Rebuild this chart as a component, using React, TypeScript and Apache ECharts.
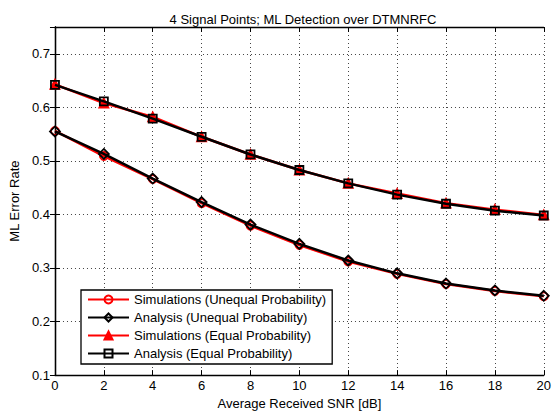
import React, { useEffect, useRef } from "react";
import * as echarts from "echarts";

const snr = [0, 2, 4, 6, 8, 10, 12, 14, 16, 18, 20];
const simUnequal = [0.556, 0.509, 0.466, 0.421, 0.379, 0.343, 0.312, 0.289, 0.27, 0.257, 0.247];
const anaUnequal = [0.555, 0.513, 0.467, 0.423, 0.381, 0.345, 0.314, 0.29, 0.271, 0.258, 0.248];
const simEqual = [0.643, 0.608, 0.582, 0.545, 0.512, 0.483, 0.458, 0.439, 0.421, 0.409, 0.399];
const anaEqual = [0.642, 0.611, 0.579, 0.545, 0.512, 0.483, 0.458, 0.437, 0.42, 0.407, 0.398];

const seriesNames = [
  "Simulations (Unequal Probability)",
  "Analysis (Unequal Probability)",
  "Simulations (Equal Probability)",
  "Analysis (Equal Probability)",
];

const FONT = "Liberation Sans, Arial, Helvetica, sans-serif";
const DIAMOND = "path://M0,-1L1,0L0,1L-1,0Z";

export default function App() {
  const ref = useRef<HTMLDivElement>(null);
  useEffect(() => {
    if (!ref.current) return;
    const chart = echarts.init(ref.current, null, { renderer: "svg" });
    const pair = (ys: number[]) => snr.map((x, i) => [x, ys[i]]);
    const tickCommon = { show: true, inside: true, length: 5, lineStyle: { color: "#000", width: 1 } };
    const lineCommon = { show: true, lineStyle: { color: "#000", width: 1.3 } };
    const grid = { show: true, lineStyle: { color: "#444", width: 1, type: [1, 3] as any } };
    const mk = (
      name: string,
      data: number[],
      color: string,
      symbol: string,
      size: number,
      fill: string,
      z: number
    ) => ({
      name,
      type: "line",
      data: pair(data),
      symbol,
      symbolSize: size,
      showSymbol: true,
      z,
      lineStyle: { color, width: 2.5 },
      itemStyle: { color: fill, borderColor: color, borderWidth: 1.8 },
      emphasis: { disabled: true },
    });
    chart.setOption({
      animation: false,
      backgroundColor: "#fff",
      textStyle: { fontFamily: FONT },
      title: {
        text: "4 Signal Points; ML Detection over DTMNRFC",
        left: 298,
        textAlign: "center",
        top: 8,
        textStyle: { fontSize: 13, fontWeight: "normal", color: "#000", fontFamily: FONT },
      },
      grid: { left: 49, top: 27, width: 498, height: 354, containLabel: false },
      legend: {
        orient: "vertical",
        left: 81,
        top: 290,
        data: seriesNames,
        itemWidth: 41,
        itemHeight: 10,
        itemGap: 5,
        padding: [3, 6, 4, 6],
        backgroundColor: "#fff",
        borderColor: "#000",
        borderWidth: 1.3,
        borderRadius: 0,
        textStyle: { fontSize: 13, color: "#000", fontFamily: FONT },
        selectedMode: false,
      },
      xAxis: [
        {
          type: "value",
          min: 0,
          max: 20,
          interval: 2,
          position: "bottom",
          name: "Average Received SNR [dB]",
          nameLocation: "middle",
          nameGap: 19,
          nameTextStyle: { fontSize: 13, color: "#000", fontFamily: FONT },
          axisLine: lineCommon,
          axisTick: tickCommon,
          axisLabel: { fontSize: 13, color: "#000", margin: 4, fontFamily: FONT },
          splitLine: grid,
        },
        {
          type: "value",
          min: 0,
          max: 20,
          interval: 2,
          position: "top",
          axisLine: lineCommon,
          axisTick: tickCommon,
          axisLabel: { show: false },
          splitLine: { show: false },
        },
      ],
      yAxis: [
        {
          type: "value",
          min: 0.1,
          max: 0.75,
          interval: 0.1,
          position: "left",
          name: "ML Error Rate",
          nameLocation: "middle",
          nameGap: 30,
          nameTextStyle: { fontSize: 13, color: "#000", fontFamily: FONT },
          axisLine: lineCommon,
          axisTick: tickCommon,
          axisLabel: {
            fontSize: 13,
            color: "#000",
            margin: 5,
            fontFamily: FONT,
            formatter: (v: number) => (Math.abs(v - 0.75) < 1e-6 ? "" : v.toFixed(1)),
          },
          splitLine: grid,
        },
        {
          type: "value",
          min: 0.1,
          max: 0.75,
          interval: 0.1,
          position: "right",
          axisLine: lineCommon,
          axisTick: tickCommon,
          axisLabel: { show: false },
          splitLine: { show: false },
        },
      ],
      series: [
        mk(seriesNames[0], simUnequal, "#ff0000", "circle", 8, "rgba(255,255,255,0)", 2),
        mk(seriesNames[1], anaUnequal, "#000000", DIAMOND, 10, "rgba(255,255,255,0)", 3),
        mk(seriesNames[2], simEqual, "#ff0000", "triangle", 9, "#ff0000", 2),
        mk(seriesNames[3], anaEqual, "#000000", "rect", 8, "rgba(255,255,255,0)", 3),
      ],
    });
    return () => chart.dispose();
  }, []);
  return (
    <div
      ref={ref}
      style={{ position: "fixed", left: 0, top: 0, width: 554, height: 415, background: "#fff" }}
    />
  );
}
